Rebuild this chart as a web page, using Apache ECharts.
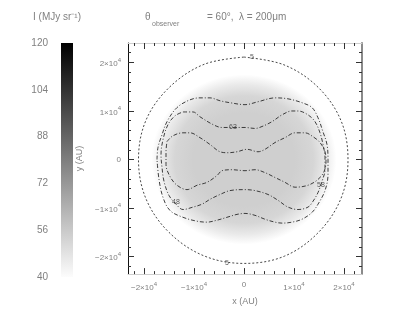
<!DOCTYPE html>
<html>
<head>
<meta charset="utf-8">
<script src="https://cdn.jsdelivr.net/npm/echarts@6/dist/echarts.min.js"></script>
<style>
  html, body { margin: 0; padding: 0; background: #fff; }
  #chart { width: 402px; height: 311px; }
</style>
</head>
<body>
<div id="chart"></div>
<script>
// axis ranges (AU) and ticks
var xRange = [-23200, 23600]
var yRange = [-23600, 24000]
var majorTicks = [-20000, -10000, 0, 10000, 20000]
var minorTicks = [-22000, -18000, -16000, -14000, -12000, -8000, -6000, -4000, -2000,
  2000, 4000, 6000, 8000, 12000, 14000, 16000, 18000, 22000]

// colour bar (MJy sr^-1)
var cbarRange = [40, 120]
var cbarTicks = [40, 56, 72, 88, 104, 120]

// smooth emission disk: centre, radii (AU), radial intensity profile [r/R, I]
var diskCenter = [0, 0]
var diskRadius = [18500, 17500]
var diskProfile = [[0, 55], [0.55, 55], [0.75, 53], [0.88, 47], [1, 40]]

// contours (AU)
var contourCircle = [
  [0, 21100], [8000, 19500], [14800, 14900], [19400, 8000], [20800, 0], [19400, -8000],
  [14900, -15000], [8100, -19900], [0, -21400], [-8100, -19800], [-15000, -15000],
  [-19600, -8100], [-21100, 0], [-19600, 8100], [-14900, 14900], [-8000, 19600], [0, 21100]
]
var contourOuter = [
  [-17400, 0], [-17200, 2500], [-16400, 5100], [-15400, 7800], [-13400, 10700], [-10800, 12300],
  [-8800, 12700], [-6800, 12700], [-4800, 12100], [-2800, 11700], [200, 11300], [2800, 11900],
  [6200, 12700], [8800, 12500], [11600, 11700], [13600, 10700], [14800, 8600], [15800, 5700],
  [16600, 3100], [16800, 0], [16800, -3100], [16200, -6400], [14800, -9200], [13600, -10900],
  [11600, -12300], [9600, -12900], [7600, -13100], [6200, -12900], [4200, -12300], [2200, -11500],
  [200, -11100], [-1400, -11300], [-3400, -11900], [-5400, -12500], [-7400, -12900], [-9400, -12700],
  [-12200, -11900], [-14800, -10500], [-16200, -7800], [-17000, -4100], [-17400, 0]
]
var contourMiddle = [
  [-12200, 9800], [-10200, 9800], [-8800, 8800], [-6200, 7200], [-4400, 6600], [-2200, 6600],
  [200, 6600], [2200, 6400], [3600, 6800], [5600, 7800], [7600, 9200], [9600, 10000],
  [10800, 10000], [12800, 9200], [14200, 7800], [15200, 5500], [15800, 3100], [16200, 400],
  [16200, -2100], [15600, -4500], [14800, -6800], [13800, -8600], [12800, -9800], [10800, -10300],
  [8800, -9800], [6800, -8400], [4800, -7200], [2200, -6400], [200, -6200], [-2800, -6400],
  [-4800, -7200], [-6800, -8200], [-8400, -9200], [-10200, -9800], [-12200, -10300], [-13600, -9200],
  [-15000, -7400], [-16000, -4500], [-16400, -1600], [-16600, 1000], [-16200, 4100], [-15200, 7200],
  [-13800, 9000], [-12200, 9800]
]
var contourInner = [
  [-15400, 3700], [-14200, 4900], [-12200, 5500], [-10800, 5500], [-8800, 4500], [-6800, 3100],
  [-4800, 1600], [-3200, 1400], [-1400, 1600], [600, 2100], [2800, 1600], [4200, 2100],
  [6200, 3500], [8200, 4500], [10200, 5500], [12200, 5500], [13800, 4700], [15200, 3500],
  [16200, 1600], [16400, -400], [16000, -2500], [14800, -4100], [12800, -5300], [10200, -5700],
  [8200, -4700], [6200, -3700], [4200, -2700], [2200, -2100], [200, -2300], [-2400, -2100],
  [-4400, -2300], [-5400, -3300], [-7400, -4700], [-9400, -5300], [-11400, -6200], [-13400, -5300],
  [-14800, -3500], [-15600, -1000], [-15600, 1600], [-15400, 3700]
]
var contourLabels = [
  { name: '5', value: [1600, 21100] },
  { name: '5', value: [-3400, -21400] },
  { name: '63', value: [-2200, 6600] },
  { name: '58', value: [15400, -5300] },
  { name: '48', value: [-13600, -8800] }
]

var textColor = '#808080'

function grey(v) {
  var t = (v - cbarRange[0]) / (cbarRange[1] - cbarRange[0])
  var g = Math.round(255 * (1 - t))
  return 'rgb(' + g + ',' + g + ',' + g + ')'
}

function tickText(v) {
  if (v === 0) return '0'
  var m = v / 10000
  return '{m|' + (m < 0 ? '\u2212' : '') + Math.abs(m) + '\u00d710}{e|4}'
}

var tickRich = {
  m: { fontSize: 8, color: textColor, lineHeight: 11, verticalAlign: 'bottom' },
  e: { fontSize: 6, color: textColor, lineHeight: 11, verticalAlign: 'top' }
}

function frameAxis(dim, pos, values, len, withLabel, lineColor) {
  var a = {
    type: 'value',
    gridIndex: 0,
    position: pos,
    min: dim === 'x' ? xRange[0] : yRange[0],
    max: dim === 'x' ? xRange[1] : yRange[1],
    axisLine: { show: !!lineColor, onZero: false, lineStyle: { color: lineColor || '#000', width: 1 } },
    axisTick: { show: true, inside: true, length: len, customValues: values, lineStyle: { color: '#333', width: 1 } },
    axisLabel: { show: false },
    splitLine: { show: false }
  }
  if (withLabel) {
    a.axisLabel = {
      show: true, customValues: majorTicks, margin: 7,
      formatter: tickText, rich: tickRich, color: textColor, fontSize: 8
    }
  }
  return a
}

var xAxes = [
  frameAxis('x', 'bottom', majorTicks, 6, true, '#cfcfcf'),
  frameAxis('x', 'bottom', minorTicks, 3, false, null),
  frameAxis('x', 'top', majorTicks, 6, false, '#cfcfcf'),
  frameAxis('x', 'top', minorTicks, 3, false, null)
]
xAxes[0].name = 'x (AU)'
xAxes[0].nameLocation = 'middle'
xAxes[0].nameGap = 19
xAxes[0].nameTextStyle = { color: textColor, fontSize: 9 }

var yAxes = [
  frameAxis('y', 'left', majorTicks, 6, true, '#111'),
  frameAxis('y', 'left', minorTicks, 3, false, null),
  frameAxis('y', 'right', majorTicks, 6, false, '#8a8a8a'),
  frameAxis('y', 'right', minorTicks, 3, false, null)
]
yAxes[2].axisLine.lineStyle.width = 2
yAxes[0].name = 'y (AU)'
yAxes[0].nameLocation = 'middle'
yAxes[0].nameGap = 39
yAxes[0].nameTextStyle = { color: textColor, fontSize: 9 }

// colour bar axes
xAxes.push({ type: 'value', gridIndex: 1, min: 0, max: 1, show: false })
yAxes.push({
  type: 'value', gridIndex: 1, min: cbarRange[0], max: cbarRange[1],
  interval: cbarTicks[1] - cbarTicks[0],
  axisLine: { show: false }, axisTick: { show: false }, splitLine: { show: false },
  axisLabel: { color: textColor, fontSize: 10, margin: 13 }
})

var contourStyle = { color: '#2a2a2a', width: 0.9, type: [4, 2, 1, 2] }

function contourSeries(data, style) {
  return {
    type: 'line', xAxisIndex: 0, yAxisIndex: 0, data: data,
    smooth: 0.35, showSymbol: false, symbol: 'none', silent: true,
    lineStyle: style, z: 3
  }
}

var chart = echarts.init(document.getElementById('chart'), null, { renderer: 'canvas' })
chart.setOption({
  animation: false,
  backgroundColor: '#fff',
  grid: [
    { left: 128, top: 43, width: 234, height: 232 },
    { left: 61, top: 43, width: 12, height: 234 }
  ],
  xAxis: xAxes,
  yAxis: yAxes,
  graphic: [
    { type: 'text', left: 33, top: 12, style: { text: 'I (MJy sr\u207b\u00b9)', fill: textColor, font: '10px "Liberation Sans", Arial, sans-serif' } },
    { type: 'text', left: 145, top: 12, style: { text: '\u03b8', fill: textColor, font: '10px "Liberation Sans", Arial, sans-serif' } },
    { type: 'text', left: 152, top: 21, style: { text: 'observer', fill: textColor, font: '7px "Liberation Sans", Arial, sans-serif' } },
    { type: 'text', left: 207, top: 12, style: { text: '= 60\u00b0,  \u03bb = 200\u03bcm', fill: textColor, font: '10px "Liberation Sans", Arial, sans-serif' } }
  ],
  series: [
    {
      type: 'custom', xAxisIndex: 4, yAxisIndex: 4, silent: true,
      data: [[0, cbarRange[0], 1, cbarRange[1]]],
      renderItem: function (params, api) {
        var p0 = api.coord([api.value(0), api.value(3)])
        var p1 = api.coord([api.value(2), api.value(1)])
        return {
          type: 'rect',
          shape: { x: p0[0], y: p0[1], width: p1[0] - p0[0], height: p1[1] - p0[1] },
          style: {
            fill: new echarts.graphic.LinearGradient(0, 0, 0, 1, [
              { offset: 0, color: grey(cbarRange[1]) },
              { offset: 1, color: grey(cbarRange[0] + 1) }
            ])
          }
        }
      }
    },
    {
      type: 'custom', xAxisIndex: 0, yAxisIndex: 0, silent: true, z: 1,
      data: [[diskCenter[0], diskCenter[1], diskRadius[0], diskRadius[1]]],
      renderItem: function (params, api) {
        var c = api.coord([api.value(0), api.value(1)])
        var s = api.size([api.value(2), api.value(3)])
        return {
          type: 'circle',
          x: c[0], y: c[1],
          scaleX: s[0] / s[1], scaleY: 1,
          shape: { cx: 0, cy: 0, r: s[1] },
          style: {
            fill: new echarts.graphic.RadialGradient(0.5, 0.5, 0.5, diskProfile.map(function (p) {
              return { offset: p[0], color: grey(p[1]) }
            }))
          }
        }
      }
    },
    contourSeries(contourCircle, { color: '#333', width: 0.9, type: [2, 2] }),
    contourSeries(contourOuter, contourStyle),
    contourSeries(contourMiddle, contourStyle),
    contourSeries(contourInner, contourStyle),
    {
      type: 'scatter', xAxisIndex: 0, yAxisIndex: 0, symbolSize: 0, silent: true, z: 4,
      data: contourLabels,
      label: {
        show: true, position: 'inside', formatter: '{b}',
        fontSize: 7, color: '#333'
      }
    }
  ]
})
</script>
</body>
</html>
